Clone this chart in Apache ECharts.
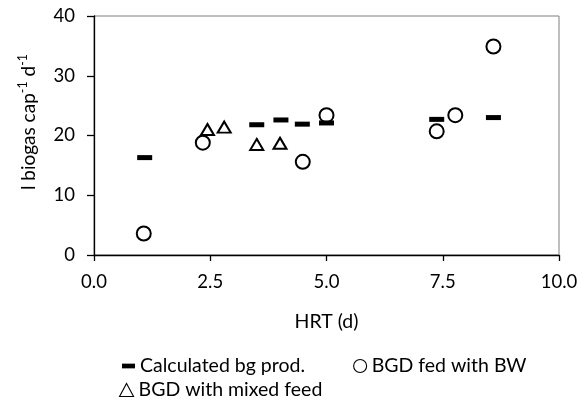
<!DOCTYPE html>
<html>
<head>
<meta charset="utf-8">
<script src="https://cdn.jsdelivr.net/npm/echarts@6/dist/echarts.min.js"></script>
<style>html,body{margin:0;padding:0;background:#fff}#c{width:584px;height:409px}</style>
</head>
<body>
<div id="c"></div>
<script>
// Data
const seriesNames = ['Calculated bg prod.', 'BGD fed with BW', 'BGD with mixed feed'];
const calcHRT = [1.09, 3.50, 4.02, 4.48, 5.00, 7.37, 8.59];
const calcBiogas = [16.3, 21.8, 22.6, 21.9, 22.1, 22.7, 23.0];
const bwHRT = [1.07, 2.34, 4.49, 5.00, 7.37, 7.77, 8.59];
const bwBiogas = [3.6, 18.8, 15.6, 23.4, 20.7, 23.4, 34.9];
const mixHRT = [2.44, 2.80, 3.50, 4.00];
const mixBiogas = [21.0, 21.4, 18.5, 18.7];
const xTicks = [0, 2.5, 5, 7.5, 10];
const yTicks = [0, 10, 20, 30, 40];

const pairs = (xs, ys) => xs.map((x, i) => [x, ys[i]]);
const FONT = 'Lato';
const chart = echarts.init(document.getElementById('c'), null, {renderer: 'canvas'});
chart.setOption({
  animation: false,
  backgroundColor: '#fff',
  textStyle: {fontFamily: FONT, color: '#000'},
  grid: {left: 94, right: 25, top: 16, bottom: 154, show: true, borderColor: '#7f7f7f', borderWidth: 1},
  xAxis: {
    type: 'value', min: xTicks[0], max: xTicks[xTicks.length - 1], interval: 2.5,
    name: 'HRT (d)', nameLocation: 'middle', nameGap: 57,
    nameTextStyle: {fontFamily: FONT, fontSize: 19.5, color: '#000'},
    axisLine: {show: true, lineStyle: {color: '#000', width: 1.3}},
    axisTick: {show: true, inside: false, length: 6, lineStyle: {color: '#000', width: 1.3}},
    axisLabel: {fontFamily: FONT, fontSize: 18.5, color: '#000', margin: 18, formatter: v => v.toFixed(1), showMaxLabel: true},
    splitLine: {show: false}
  },
  yAxis: {
    type: 'value', min: yTicks[0], max: yTicks[yTicks.length - 1], interval: 10,
    axisLine: {show: true, lineStyle: {color: '#000', width: 1.3}},
    axisTick: {show: true, inside: false, length: 7, lineStyle: {color: '#000', width: 1.3}},
    axisLabel: {fontFamily: FONT, fontSize: 18.5, color: '#000', margin: 19},
    splitLine: {show: false}
  },
  graphic: [{
    type: 'text', x: 27, y: 122, rotation: Math.PI / 2,
    style: {
      text: '{a|l biogas cap}{s|-1}{a| d}{s|-1}',
      align: 'center', verticalAlign: 'middle',
      rich: {
        a: {fontFamily: FONT, fontSize: 19, lineHeight: 22, fill: '#000', verticalAlign: 'bottom'},
        s: {fontFamily: FONT, fontSize: 12.5, lineHeight: 22, fill: '#000', verticalAlign: 'top'}
      }
    }
  }],
  legend: [{
    left: 117, top: 351, itemWidth: 13, itemHeight: 13, itemGap: 48,
    textStyle: {fontFamily: FONT, fontSize: 19.5, color: '#000'},
    data: [
      {name: seriesNames[0], icon: 'path://M0,0H11V4H0Z', itemStyle: {color: '#000', opacity: 1}},
      {name: seriesNames[1], icon: 'circle', itemStyle: {color: 'rgba(0,0,0,0)', borderColor: '#000', borderWidth: 1.1, opacity: 1}}
    ]
  }, {
    left: 114, top: 375, itemWidth: 14, itemHeight: 13,
    textStyle: {fontFamily: FONT, fontSize: 19.5, color: '#000'},
    data: [
      {name: seriesNames[2], icon: 'triangle', itemStyle: {color: 'rgba(0,0,0,0)', borderColor: '#000', borderWidth: 1.1, opacity: 1}}
    ]
  }],
  series: [{
    name: seriesNames[0], type: 'scatter', data: pairs(calcHRT, calcBiogas),
    symbol: 'rect', symbolSize: [15, 5],
    itemStyle: {color: '#000', opacity: 1}, z: 2
  }, {
    name: seriesNames[1], type: 'scatter', data: pairs(bwHRT, bwBiogas),
    symbol: 'circle', symbolSize: 14,
    itemStyle: {color: 'rgba(0,0,0,0)', borderColor: '#000', borderWidth: 2, opacity: 1}, z: 3
  }, {
    name: seriesNames[2], type: 'scatter', data: pairs(mixHRT, mixBiogas),
    symbol: 'triangle', symbolSize: [13, 11],
    itemStyle: {color: 'rgba(0,0,0,0)', borderColor: '#000', borderWidth: 2, opacity: 1}, z: 3
  }]
});
</script>
</body>
</html>
